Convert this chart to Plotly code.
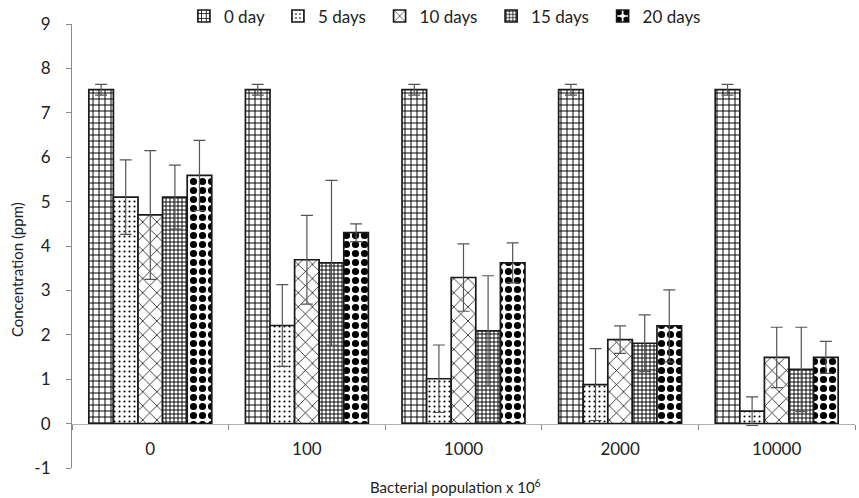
import plotly.graph_objects as go

# Bacterial population (x 10^6) groups
populations = ["0", "100", "1000", "2000", "10000"]

# Series: residual concentration (ppm) after each incubation time
series_names = ["0 day", "5 days", "10 days", "15 days", "20 days"]
day0 = [7.52, 7.52, 7.52, 7.52, 7.52]
day5 = [5.10, 2.21, 1.01, 0.88, 0.28]
day10 = [4.70, 3.69, 3.29, 1.89, 1.49]
day15 = [5.10, 3.62, 2.09, 1.81, 1.22]
day20 = [5.59, 4.30, 3.62, 2.20, 1.49]

# Standard deviations
err0 = [0.12, 0.12, 0.12, 0.12, 0.12]
err5 = [0.84, 0.92, 0.76, 0.81, 0.32]
err10 = [1.45, 1.00, 0.76, 0.31, 0.68]
err15 = [0.72, 1.86, 1.24, 0.64, 0.95]
err20 = [0.79, 0.20, 0.45, 0.81, 0.36]

values = [day0, day5, day10, day15, day20]
errors = [err0, err5, err10, err15, err20]

# y-axis ticks
y_ticks = [-1, 0, 1, 2, 3, 4, 5, 6, 7, 8, 9]
y_tick_labels = ["-1", "0", "1", "2", "3", "4", "5", "6", "7", "8", "9"]

# Fill patterns for each series (shape, size, solidity)
patterns = [
    dict(shape="+", size=6, solidity=0.3),
    dict(shape=".", size=5, solidity=0.14),
    dict(shape="x", size=10, solidity=0.14),
    dict(shape="+", size=4, solidity=0.42),
    dict(shape=".", size=9, solidity=0.5),
]

FONT = "Lato, 'Open Sans', sans-serif"
PAD = "\u00a0\u00a0"

fig = go.Figure()
for name, vals, errs, pat in zip(series_names, values, errors, patterns):
    fig.add_trace(go.Bar(
        name=name + PAD,
        x=populations,
        y=vals,
        marker=dict(
            color="white",
            line=dict(color="#1a1a1a", width=1.7),
            pattern=dict(fgcolor="#000000", bgcolor="white", fgopacity=1,
                         fillmode="replace", **pat),
        ),
        error_y=dict(type="data", array=errs, visible=True,
                     color="#555555", thickness=1.2, width=6),
    ))

fig.update_layout(
    width=859, height=498,
    margin=dict(l=72, r=4, t=24, b=30, autoexpand=False),
    paper_bgcolor="white", plot_bgcolor="white",
    barmode="group", bargap=0.215, bargroupgap=0,
    font=dict(family=FONT, size=16, color="#222222"),
    showlegend=True,
    legend=dict(orientation="h", x=0.482, xanchor="center", y=1.017, yanchor="middle",
                font=dict(size=17, color="#222222"), itemwidth=30,
                bgcolor="rgba(0,0,0,0)", traceorder="normal"),
    xaxis=dict(
        type="category", anchor="free", position=0.1,
        range=[-0.5, 4.5],
        showline=True, linecolor="#b0b0b0", linewidth=1.2,
        tickson="boundaries", ticks="outside", ticklen=5, tickcolor="#888888",
        showgrid=False, zeroline=False,
        tickfont=dict(size=17, color="#222222"),
        ticklabelstandoff=10,
    ),
    yaxis=dict(
        range=[-1, 9], tickmode="array", tickvals=y_ticks, ticktext=y_tick_labels,
        showline=True, linecolor="#8a8a8a", linewidth=1.2,
        ticks="outside", ticklen=5, tickcolor="#8a8a8a",
        showgrid=False, zeroline=False,
        tickfont=dict(size=17, color="#222222"),
        ticklabelstandoff=12,
    ),
    annotations=[
        dict(text="Concentration (ppm)", xref="paper", yref="paper",
             x=0, y=0.5, xshift=-66, yshift=-24, textangle=-90,
             showarrow=False, font=dict(size=15, color="#222222")),
        dict(text="Bacterial population x 10<sup>6</sup>", xref="paper", yref="paper",
             x=0.49, y=0, yshift=-30, showarrow=False,
             font=dict(size=15, color="#222222")),
    ],
)

fig.write_html("out.html")
